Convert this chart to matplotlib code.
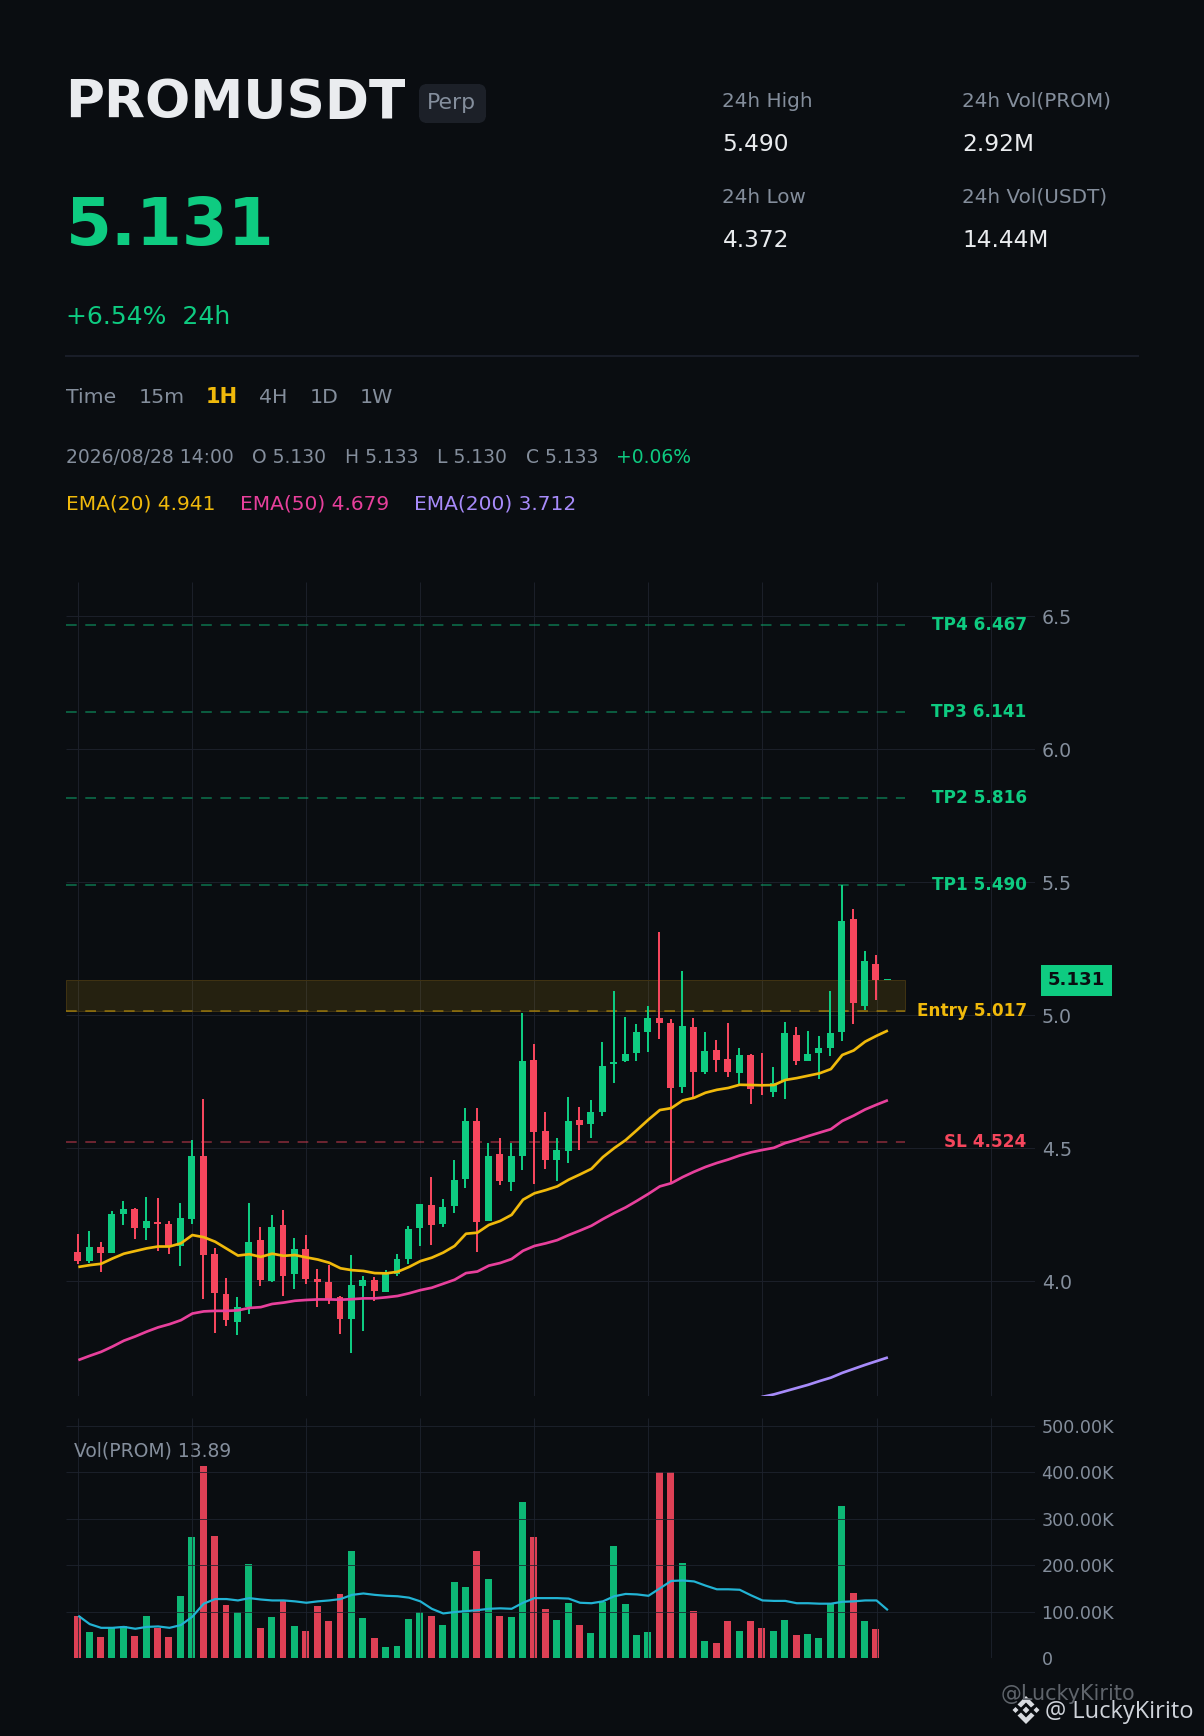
import numpy as np
import matplotlib
matplotlib.use("Agg")
import matplotlib.pyplot as plt
from matplotlib.patches import Rectangle, Polygon, Ellipse

W, H = 1204, 1736
BG = "#0a0d11"
GREEN = "#0ecb81"
RED = "#f6465d"
AMBER = "#f0b90b"
GRAY = "#848e9c"
LIGHT = "#eaecef"
GRID = "#1b1f29"

opens = [4.109,4.075,4.128,4.105,4.252,4.271,4.199,4.222,4.214,4.132,
         4.233,4.470,4.101,3.951,3.846,3.902,4.154,4.000,4.211,4.026,
         4.120,4.008,3.996,3.940,3.857,3.981,4.004,3.959,4.026,4.083,
         4.199,4.286,4.214,4.282,4.385,4.603,4.227,4.479,4.373,4.471,
         4.832,4.565,4.456,4.490,4.607,4.592,4.637,4.817,4.828,4.858,
         4.937,4.990,4.971,4.731,4.956,4.787,4.870,4.836,4.783,4.851,
         4.741,4.712,4.753,4.926,4.828,4.858,4.877,4.937,5.362,5.035,
         5.193,5.130]
highs = [4.177,4.188,4.147,4.263,4.301,4.274,4.316,4.312,4.226,4.293,
         4.530,4.683,4.124,4.011,3.940,4.293,4.203,4.248,4.267,4.162,
         4.173,4.045,4.060,3.944,4.098,4.019,4.015,4.041,4.101,4.207,
         4.289,4.391,4.308,4.455,4.652,4.652,4.520,4.539,4.520,5.009,
         4.892,4.637,4.539,4.693,4.655,4.682,4.900,5.091,4.994,4.967,
         5.035,5.313,4.986,5.167,4.990,4.937,4.907,4.971,4.877,4.855,
         4.858,4.806,4.975,4.956,4.941,4.922,5.091,5.490,5.400,5.242,
         5.227,5.133]
lows = [4.064,4.068,4.034,4.105,4.211,4.158,4.154,4.113,4.101,4.056,
        4.214,3.932,3.805,3.831,3.797,3.876,3.981,3.996,3.944,3.970,
        3.989,3.902,3.914,3.801,3.729,3.812,3.925,3.959,4.019,4.064,
        4.132,4.135,4.203,4.256,4.351,4.110,4.227,4.362,4.340,4.419,
        4.366,4.422,4.377,4.445,4.494,4.539,4.622,4.746,4.825,4.828,
        4.862,4.911,4.373,4.708,4.693,4.779,4.787,4.768,4.738,4.667,
        4.701,4.693,4.685,4.813,4.828,4.761,4.847,4.904,4.967,5.020,
        5.058,5.130]
closes = [4.075,4.128,4.105,4.252,4.271,4.199,4.226,4.214,4.128,4.237,
          4.470,4.098,3.955,3.853,3.902,4.147,4.004,4.203,4.019,4.120,
          4.008,3.996,3.932,3.857,3.985,4.004,3.962,4.030,4.083,4.195,
          4.289,4.211,4.278,4.380,4.603,4.223,4.471,4.377,4.471,4.828,
          4.561,4.456,4.494,4.603,4.588,4.637,4.810,4.825,4.855,4.937,
          4.990,4.971,4.727,4.960,4.787,4.866,4.832,4.787,4.851,4.723,
          4.736,4.746,4.934,4.828,4.855,4.877,4.934,5.355,5.046,5.204,
          5.133,5.133]
ema20 = [4.053,4.060,4.065,4.085,4.103,4.113,4.123,4.130,4.130,4.142,
         4.173,4.165,4.148,4.122,4.096,4.101,4.091,4.103,4.095,4.098,
         4.089,4.081,4.069,4.048,4.041,4.038,4.030,4.029,4.035,4.053,
         4.075,4.088,4.107,4.132,4.178,4.182,4.211,4.226,4.249,4.306,
         4.330,4.342,4.356,4.381,4.401,4.422,4.466,4.500,4.530,4.568,
         4.607,4.643,4.650,4.679,4.689,4.708,4.719,4.726,4.738,4.737,
         4.736,4.737,4.756,4.763,4.772,4.781,4.797,4.850,4.867,4.900,
         4.922,4.942]
ema50 = [3.703,3.719,3.734,3.754,3.776,3.792,3.810,3.826,3.838,3.853,
         3.878,3.886,3.888,3.888,3.890,3.899,3.902,3.914,3.919,3.926,
         3.929,3.931,3.931,3.930,3.932,3.935,3.935,3.939,3.944,3.954,
         3.966,3.975,3.990,4.005,4.030,4.036,4.058,4.068,4.083,4.114,
         4.132,4.142,4.154,4.173,4.190,4.208,4.233,4.256,4.277,4.302,
         4.328,4.356,4.368,4.391,4.411,4.429,4.444,4.457,4.472,4.484,
         4.493,4.501,4.519,4.531,4.545,4.558,4.571,4.602,4.622,4.645,
         4.663,4.680]
ema200_index = [59,60,61,62,63,64,65,66,67,68,69,70,71]
ema200 = [3.552,3.565,3.574,3.586,3.598,3.610,3.624,3.637,3.655,3.670,3.685,3.699,3.713]
volumes = [90.6,56,45,65,69,47,91,65,45,134,
           261,414,263,114,99,203,65,88,123,69,
           58,112,80,138,231,86,43,24,26,84,
           99,91,71,164,153,231,170,91,88,335,
           261,106,82,119,71,54,121,242,117,50,
           56,400,400,205,101,37,32,80,58,80,
           65,58,82,50,52,43,117,328,140,80,
           63,0.014]
vol_ma = [91,73,65,65,67,63,67,68,65,71,
          89,117,127,127,124,129,126,124,124,122,
          119,122,124,127,136,139,136,134,133,130,
          122,106,96,99,101,103,106,107,106,119,
          129,129,129,128,119,118,122,133,138,137,
          134,150,166,167,165,156,148,148,147,135,
          124,123,123,118,118,117,117,121,122,124,
          124,103]
levels = [("TP4", 6.467), ("TP3", 6.141), ("TP2", 5.816), ("TP1", 5.490),
          ("Entry", 5.017), ("SL", 4.524)]
level_colors = [GREEN, GREEN, GREEN, GREEN, AMBER, RED]
price_ticks = [4.0, 4.5, 5.0, 5.5, 6.0, 6.5]
vol_ticks = [0, 100, 200, 300, 400, 500]
vol_tick_labels = ["0", "100.00K", "200.00K", "300.00K", "400.00K", "500.00K"]
zone_low, zone_high = 5.017, 5.133
last_price = 5.131

plt.rcParams["font.family"] = "DejaVu Sans"
plt.rcParams["lines.scale_dashes"] = False
plt.rcParams["lines.solid_capstyle"] = "butt"

fig = plt.figure(figsize=(W / 100, H / 100), dpi=100, facecolor=BG)
PX = 0.72


def T(x, y, s, size, color, weight="normal", ha="left", family=None, alpha=None):
    kw = {"family": family} if family else {}
    return fig.text(x / W, 1 - y / H, s, fontsize=size * PX, color=color, weight=weight,
                    ha=ha, va="baseline", alpha=alpha, **kw)


def axes_px(left, top, right, bottom):
    return fig.add_axes([left / W, 1 - bottom / H, (right - left) / W, (bottom - top) / H])


XL, XR = -1.08, 83.9
x = np.arange(len(opens))
vgrid = np.arange(0, 81, 10)

# price panel
ax = axes_px(66, 582, 1035, 1396)
ax.set_facecolor(BG)
ax.set_xlim(XL, XR)
ax.set_ylim(3.568, 6.628)
ax.set_axisbelow(True)
ax.set_xticks(vgrid)
ax.set_yticks(price_ticks)
ax.set_yticklabels([f"{t:.1f}" for t in price_ticks])
ax.grid(True, color=GRID, lw=1.0 * PX)
ax.tick_params(axis="x", length=0, labelbottom=False)
ax.tick_params(axis="y", length=0, labelright=True, labelleft=False, pad=7 * PX,
               labelsize=19 * PX, labelcolor=GRAY)
for s in ax.spines.values():
    s.set_visible(False)

LEVEL_END = 72.46
ax.add_patch(Rectangle((XL, zone_low), LEVEL_END - XL, zone_high - zone_low,
                       facecolor=AMBER, alpha=0.12, edgecolor="none", zorder=1))
ax.add_patch(Rectangle((XL, zone_low), LEVEL_END - XL, zone_high - zone_low,
                       fill=False, edgecolor="#3f3212", lw=1.0 * PX, zorder=1.1))
for (name, val), col in zip(levels, level_colors):
    ax.plot([XL, LEVEL_END], [val, val], color=col, alpha=0.55, lw=1.5 * PX,
            ls=(0, (10.7 * PX, 8.6 * PX)), zorder=1.5, dash_capstyle="butt")
    ax.annotate(f"{name} {val:.3f}", xy=(LEVEL_END, val), xycoords="data",
                xytext=(1026.7 / W, val), textcoords=("figure fraction", "data"),
                color=col, fontsize=16.9 * PX, weight="bold", ha="right", va="center",
                annotation_clip=False, zorder=6)

for i in x:
    o, h, l, c = opens[i], highs[i], lows[i], closes[i]
    col = GREEN if c >= o else RED
    ax.vlines(i - 0.05, l, h, color=col, lw=2.0 * PX, zorder=3)
    ax.bar(i - 0.05, max(abs(c - o), 0.004), bottom=min(o, c), width=0.61, color=col, lw=0, zorder=3.1)

ax.plot(x, ema20, color=AMBER, lw=2.7 * PX, zorder=4, solid_joinstyle="round")
ax.plot(x, ema50, color="#e8409c", lw=2.7 * PX, zorder=4, solid_joinstyle="round")
ax.plot(ema200_index, ema200, color="#a78bfa", lw=2.7 * PX, zorder=4, solid_joinstyle="round")

# price tag
fig.canvas.draw()
tag_y = ax.transData.transform((0, last_price))[1]
fig.add_artist(Rectangle((1041 / W, (tag_y - 15.4) / H), 71 / W, 30.8 / H, transform=fig.transFigure,
                         facecolor=GREEN, edgecolor="none"))
fig.text(1076.5 / W, tag_y / H, f"{last_price:.3f}", fontsize=18.2 * PX, weight="bold",
         color=BG, ha="center", va="center")

# volume panel
vx = axes_px(66, 1418, 1035, 1658)
vx.set_facecolor(BG)
vx.set_xlim(XL, XR)
vx.set_ylim(0, 517)
vx.set_axisbelow(False)
vx.set_xticks(vgrid)
vx.set_yticks(vol_ticks)
vx.set_yticklabels(vol_tick_labels)
vx.grid(True, color="#1f2430", lw=1.0 * PX, alpha=0.8, zorder=2)
vx.tick_params(axis="x", length=0, labelbottom=False)
vx.tick_params(axis="y", length=0, labelright=True, labelleft=False, pad=6.5 * PX,
               labelsize=17.5 * PX, labelcolor=GRAY)
for s in vx.spines.values():
    s.set_visible(False)
vcols = [GREEN if closes[i] >= opens[i] else RED for i in x]
vx.bar(x - 0.05, volumes, width=0.61, color=vcols, alpha=0.9, lw=0, zorder=1)
vx.plot(x, vol_ma, color="#22b3d4", lw=2.2 * PX, zorder=4, solid_joinstyle="round")
T(74.3, 1456.7, "Vol(PROM) 13.89", 18.8, GRAY)

# header
T(65.5, 118.3, "PROMUSDT", 53.2, LIGHT, "bold")
BADGE = "#1c2028"
fig.add_artist(Rectangle((419.3 / W, 1 - 116.7 / H), 66.4 / W, 26.4 / H, transform=fig.transFigure,
                         facecolor=BADGE, edgecolor="none"))
fig.add_artist(Rectangle((425.3 / W, 1 - 122.7 / H), 54.4 / W, 38.4 / H, transform=fig.transFigure,
                         facecolor=BADGE, edgecolor="none"))
for cx, cy in [(425.3, 90.3), (479.7, 90.3), (425.3, 116.7), (479.7, 116.7)]:
    fig.add_artist(Ellipse((cx / W, 1 - cy / H), 12 / W, 12 / H, transform=fig.transFigure,
                           facecolor=BADGE, edgecolor="none"))
T(426.5, 109.3, "Perp", 22, GRAY)
T(65.5, 245, "5.131", 66, GREEN, "bold")
T(66, 324.3, "+6.54%  24h", 25, GREEN)
fig.add_artist(plt.Line2D([65 / W, 1139 / W], [1 - 355.7 / H] * 2, transform=fig.transFigure,
                          color="#1e2330", lw=1.5 * PX))

for label, lx, col, wt, sz in [("Time", 66, GRAY, "normal", 20.5), ("15m", 138.5, GRAY, "normal", 20.5),
                               ("1H", 205.5, AMBER, "bold", 21), ("4H", 259.5, GRAY, "normal", 20.5),
                               ("1D", 309.5, GRAY, "normal", 20.5), ("1W", 359.5, GRAY, "normal", 20.5)]:
    T(lx, 403.3, label, sz, col, wt)

for label, lx, col in [("2026/08/28 14:00", 66, GRAY), ("O 5.130", 252, GRAY), ("H 5.133", 345, GRAY),
                       ("L 5.130", 437, GRAY), ("C 5.133", 526.5, GRAY), ("+0.06%", 616.5, GREEN)]:
    T(lx, 462.7, label, 18.75, col)

for label, lx, col in [("EMA(20) 4.941", 66, AMBER), ("EMA(50) 4.679", 240.5, "#e8409c"),
                       ("EMA(200) 3.712", 414.5, "#a78bfa")]:
    T(lx, 510, label, 20.2, col)

for lx, a, b, c, d in [(722.5, "24h High", "5.490", "24h Low", "4.372"),
                       (962.5, "24h Vol(PROM)", "2.92M", "24h Vol(USDT)", "14.44M")]:
    T(lx, 106.8, a, 20, GRAY)
    T(lx, 151, b, 23.3, LIGHT)
    T(lx, 202.8, c, 20, GRAY)
    T(lx, 246.7, d, 23.3, LIGHT)

# watermarks
T(1001, 1700, "@LuckyKirito", 20.8, "#5f646b")
T(1045, 1718, "@ LuckyKirito", 23.6, "#cfd3da", family="Open Sans")
LOGO = "#d8dbe0"
lcx, lcy = 1026, 1710


def diamond(dx, dy, r):
    fig.add_artist(Polygon([((lcx + dx + a) / W, 1 - (lcy + dy + b) / H)
                            for a, b in [(0, -r), (r, 0), (0, r), (-r, 0)]],
                           closed=True, transform=fig.transFigure, facecolor=LOGO, edgecolor="none"))


def chevron(sign):
    pts = [(0, -14), (8.5, -5.5), (5, -2.5), (0, -7.5), (-5, -2.5), (-8.5, -5.5)]
    fig.add_artist(Polygon([((lcx + a) / W, 1 - (lcy + sign * b) / H) for a, b in pts],
                           closed=True, transform=fig.transFigure, facecolor=LOGO, edgecolor="none"))


diamond(0, 0, 3.4)
diamond(-10.5, 0, 3.0)
diamond(10.5, 0, 3.0)
chevron(1)
chevron(-1)

fig.savefig("out.png", dpi=100, facecolor=BG)
